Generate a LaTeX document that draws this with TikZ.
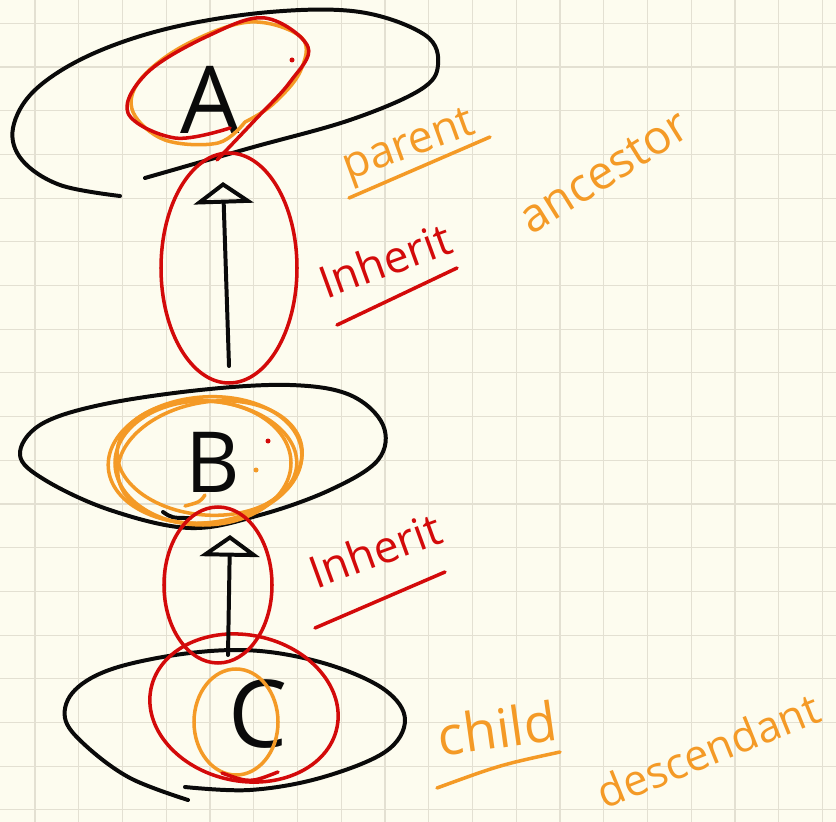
\documentclass[tikz,border=0pt]{standalone}
\usepackage{fontspec}
\setmainfont{Open Sans}
\usetikzlibrary{arrows.meta}

\definecolor{paper}{HTML}{FDFCEF}
\definecolor{gridc}{HTML}{E3E0D2}
\definecolor{pen}{HTML}{0A0A0A}
\definecolor{hlorange}{HTML}{F49A26}
\definecolor{hlred}{HTML}{D30A0A}

\begin{document}
\begin{tikzpicture}[
    x=0.03cm,y=-0.03cm,
    line cap=round,line join=round,
    ink/.style={draw=pen,line width=3.4pt},
    orng/.style={draw=hlorange,line width=3pt},
    redd/.style={draw=hlred,line width=3pt},
    letter/.style={text=pen,inner sep=0pt,font=\fontsize{80}{90}\selectfont},
    word/.style={inner sep=0pt,font=\fontsize{38}{42}\selectfont},
    arr/.style={ink,-{Triangle[open,length=0.65cm,width=1.8cm,line width=3.4pt]}},
  ]
    % paper and grid
    \useasboundingbox (0,0) rectangle (836,822);
    \fill[paper] (0,0) rectangle (836,822);
    \foreach \k in {0,...,18}{
      \draw[gridc,line width=0.9pt] (35+43.75*\k,0) -- (35+43.75*\k,822);
      \draw[gridc,line width=0.9pt] (0,23.3+43.7*\k) -- (836,23.3+43.7*\k);
    }

    % the three classes
    \node[letter] (A) at (210,100) {A};
    \node[letter,font=\fontsize{72}{80}\selectfont] (B) at (213,462) {B};
    \node[letter] (C) at (258,714) {C};

    % black outlines
    \draw[ink] plot[smooth,tension=0.6] coordinates {(120,196) (60,185) (22,160)
      (13,128) (35,90) (90,55) (170,28) (270,12) (360,12) (425,35) (438,65)
      (420,90) (350,120) (250,148) (145,178)};
    \draw[ink] plot[smooth cycle,tension=0.6] coordinates {(190,528) (110,510)
      (45,480) (20,455) (40,425) (100,405) (200,390) (290,385) (350,395)
      (383,425) (378,460) (330,490) (260,515)};
    \draw[ink] (163,512) .. controls (172,518) .. (190,518);
    \draw[ink] plot[smooth,tension=0.6] coordinates {(188,800) (130,778) (85,745)
      (65,718) (75,690) (115,668) (190,653) (260,651) (330,665) (385,690)
      (405,720) (385,752) (320,778) (250,790) (185,787)};

    % highlights round A
    \draw[orng] plot[smooth,tension=0.6] coordinates {(245,122) (218,143) (165,140)
      (133,112) (140,80) (185,45) (250,22) (302,38) (300,72) (272,105) (245,122)};
    \draw[redd] plot[smooth,tension=0.6] coordinates {(230,128) (175,138) (128,113)
      (148,72) (210,35) (265,18) (308,47) (290,82) (255,120) (217,160)};
    \fill[hlred] (292,60) circle[radius=2.5];

    % highlights round B
    \foreach \cx/\cy/\rx/\ry/\rot in {205/460/97/63/5,207/458/90/57/-5,210/462/93/60/10,203/463/88/62/0}
      \draw[orng,rotate around={\rot:(\cx,\cy)}] (\cx,\cy) ellipse [x radius=\rx,y radius=\ry];
    \draw[orng] (205,495) .. controls (200,502) .. (185,506);
    \fill[hlorange] (256,470) circle[radius=2.5];
    \fill[hlred] (268,441) circle[radius=2.5];

    % highlights round C
    \draw[redd,rotate around={-12:(244,708)}] (244,708) ellipse [x radius=95,y radius=73];
    \draw[orng] (236,722) ellipse [x radius=42,y radius=53];
    \draw[redd] (222,773) .. controls (250,783) .. (278,772);

    % inheritance arrows
    \coordinate (a-foot) at (223,182);
    \coordinate (b-top) at (229,366);
    \coordinate (b-foot) at (230,535);
    \coordinate (c-top) at (228,655);
    \draw[arr] (b-top) -- (a-foot);
    \draw[arr] (c-top) -- (b-foot);
    \draw[redd] (229,268) ellipse [x radius=68,y radius=115];
    \draw[redd] (218,585) ellipse [x radius=54,y radius=78];

    % labels
    \node[word,text=hlorange,rotate=20] (parent) at (410,148) {parent};
    \draw[orng] (349,198) -- (490,137);
    \node[word,text=hlorange,rotate=32,font=\fontsize{40}{44}\selectfont] (ancestor) at (604,172) {ancestor};
    \node[word,text=hlred,rotate=20] (inh1) at (385,260) {Inherit};
    \draw[redd] (337,325) -- (457,268);
    \node[word,text=hlred,rotate=20] (inh2) at (375,550) {Inherit};
    \draw[redd] (315,628) .. controls (380,600) .. (445,572);
    \node[word,text=hlorange,rotate=8,font=\fontsize{46}{50}\selectfont] (child) at (497,728) {child};
    \draw[orng] (437,788) .. controls (500,765) .. (560,752);
    \node[word,text=hlorange,rotate=22,font=\fontsize{37}{42}\selectfont] (desc) at (708,750) {descendant};
\end{tikzpicture}
\end{document}
